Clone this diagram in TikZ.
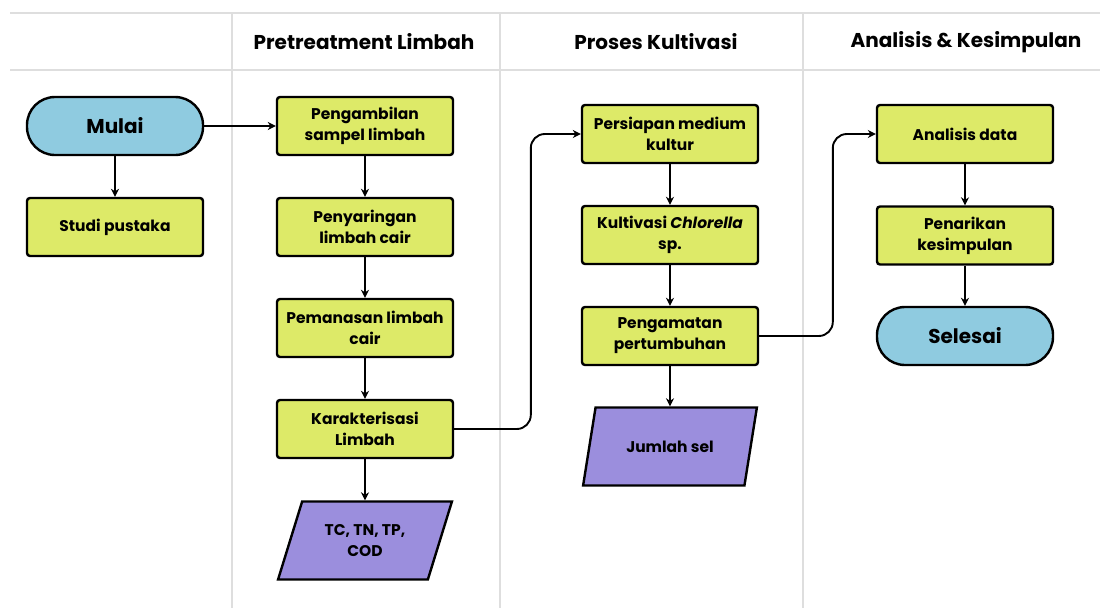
\documentclass[tikz,border=0pt]{standalone}
\usepackage{fontspec}
\setmainfont{Poppins}
\usetikzlibrary{arrows.meta,shapes.geometric}
\definecolor{lime}{HTML}{DDEA68}
\definecolor{sky}{HTML}{8FCBE0}
\definecolor{lav}{HTML}{9B8EDD}
\definecolor{lanegray}{HTML}{DEDEDE}

\begin{document}
\begin{tikzpicture}[x=1pt,y=-1pt,>=Stealth,
  proc/.style={draw,line width=2.4pt,fill=lime,rounded corners=3pt,minimum width=176pt,minimum height=58pt,align=center,font=\bfseries\fontsize{15.5}{21}\selectfont},
  term/.style={draw,line width=2.4pt,fill=sky,rounded corners=28pt,minimum width=176pt,minimum height=58pt,font=\bfseries\fontsize{20}{24}\selectfont},
  datab/.style={draw,line width=2.4pt,fill=lav,trapezium,trapezium stretches=true,trapezium left angle=66.7,trapezium right angle=113.3,minimum width=174pt,minimum height=78pt,align=center,font=\bfseries\fontsize{15.5}{21}\selectfont},
  lanehead/.style={font=\bfseries\fontsize{20}{24}\selectfont},
  flow/.style={line width=1.9pt,-{Stealth[length=8pt,width=8pt]}}]
 \useasboundingbox (0,0) rectangle (1100,608);
 % swimlanes
 \draw[lanegray,line width=1.2pt] (10,13)--(1100,13) (10,70)--(1100,70);
 \draw[lanegray,line width=1.2pt] (232,13)--(232,608) (500,13)--(500,608) (803,13)--(803,608);
 \node[lanehead] (h1) at (364,42) {Pretreatment Limbah};
 \node[lanehead] (h2) at (656,42) {Proses Kultivasi};
 \node[lanehead] (h3) at (966,42) {Analisis \& Kesimpulan};
 % start
 \node[term] (mulai) at (115,126) {Mulai};
 \node[proc] (studi) at (115,227) {Studi pustaka};
 % pretreatment
 \node[proc] (sampel) at (365,126) {Pengambilan\\sampel limbah};
 \node[proc] (saring) at (365,227) {Penyaringan\\limbah cair};
 \node[proc] (panas) at (365,328) {Pemanasan limbah\\cair};
 \node[proc] (karak) at (365,429) {Karakterisasi\\Limbah};
 \node[datab] (param) at (365,540.5) {TC, TN, TP,\\COD};
 % kultivasi
 \node[proc] (medium) at (670,134) {Persiapan medium\\kultur};
 \node[proc] (kultur) at (670,235) {Kultivasi \textit{Chlorella}\\sp.};
 \node[proc] (amati) at (670,336) {Pengamatan\\pertumbuhan};
 \node[datab] (jumlah) at (670,446.5) {Jumlah sel};
 % analisis
 \node[proc] (analisis) at (965,134) {Analisis data};
 \node[proc] (tarik) at (965,235.5) {Penarikan\\kesimpulan};
 \node[term] (selesai) at (965,336) {Selesai};

 \draw[flow] (mulai) -- (sampel);
 \draw[flow] (mulai) -- (studi);
 \draw[flow] (sampel) -- (saring);
 \draw[flow] (saring) -- (panas);
 \draw[flow] (panas) -- (karak);
 \draw[flow] (karak) -- (param);
 \draw[flow,rounded corners=14pt] (karak.east) -| ([xshift=-50pt]medium.west) -- (medium.west);
 \draw[flow] (medium) -- (kultur);
 \draw[flow] (kultur) -- (amati);
 \draw[flow] (amati) -- (jumlah);
 \draw[flow,rounded corners=14pt] (amati.east) -| ([xshift=-43pt]analisis.west) -- (analisis.west);
 \draw[flow] (analisis) -- (tarik);
 \draw[flow] (tarik) -- (selesai);
\end{tikzpicture}
\end{document}
